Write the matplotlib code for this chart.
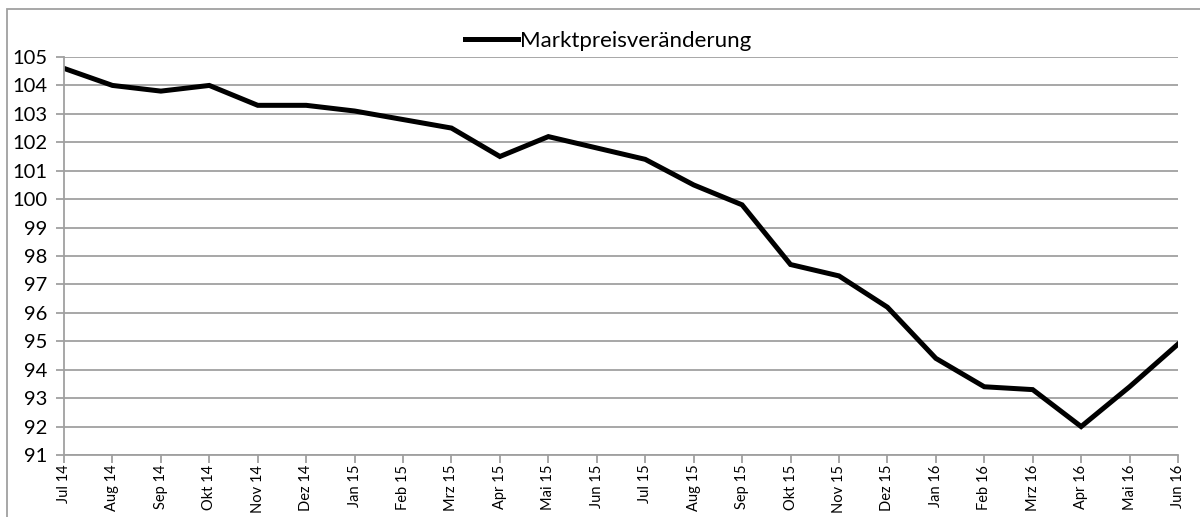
import matplotlib
matplotlib.use('Agg')
import matplotlib.pyplot as plt
from matplotlib.patches import Rectangle

# monthly labels and index values
months = ['Jul 14', 'Aug 14', 'Sep 14', 'Okt 14', 'Nov 14', 'Dez 14',
          'Jan 15', 'Feb 15', 'Mrz 15', 'Apr 15', 'Mai 15', 'Jun 15',
          'Jul 15', 'Aug 15', 'Sep 15', 'Okt 15', 'Nov 15', 'Dez 15',
          'Jan 16', 'Feb 16', 'Mrz 16', 'Apr 16', 'Mai 16', 'Jun 16']
preis = [104.6, 104.0, 103.8, 104.0, 103.3, 103.3,
         103.1, 102.8, 102.5, 101.5, 102.2, 101.8,
         101.4, 100.5, 99.8, 97.7, 97.3, 96.2,
         94.4, 93.4, 93.3, 92.0, 93.4, 94.9]
y_ticks = list(range(91, 106))

plt.rcParams['font.family'] = ['Lato', 'DejaVu Sans']

fig = plt.figure(figsize=(12, 5.17), dpi=100)
ax = fig.add_axes([64 / 1200, 1 - 455 / 517, (1178 - 64) / 1200, (455 - 57) / 517])

x = list(range(len(months)))
ax.plot(x, preis, color='black', linewidth=3.6, solid_joinstyle='miter',
        label='Marktpreisveränderung')

ax.set_xlim(0, len(months) - 1)
ax.set_ylim(91, 105)
ax.set_yticks(y_ticks)
ax.set_yticklabels([str(v) for v in y_ticks], fontsize=14.5)
ax.set_xticks(x)
ax.set_xticklabels(months, rotation=90, fontsize=10.5)
ax.yaxis.grid(True, color='#a0a0a0', linewidth=1.3)
ax.set_axisbelow(True)

for side in ['top', 'right']:
    ax.spines[side].set_visible(False)
for side in ['left', 'bottom']:
    ax.spines[side].set_color('#a0a0a0')
    ax.spines[side].set_linewidth(1.3)
ax.tick_params(axis='both', color='#a0a0a0', width=1.3, length=6)
ax.tick_params(axis='y', pad=6)
ax.tick_params(axis='x', pad=1)

ax.legend(loc='center', bbox_to_anchor=(608 / 1200, 1 - 41 / 517),
          bbox_transform=fig.transFigure, frameon=False, fontsize=16,
          handlelength=2.4, handletextpad=0.1)

# outer chart border (runs off the right and bottom edge)
fig.patches.append(Rectangle((7 / 1200, -0.05), 1.2, 1 - 9 / 517 + 0.05,
                             transform=fig.transFigure, fill=False,
                             edgecolor='#a0a0a0', linewidth=1.3))

fig.savefig('out.png', dpi=100)
